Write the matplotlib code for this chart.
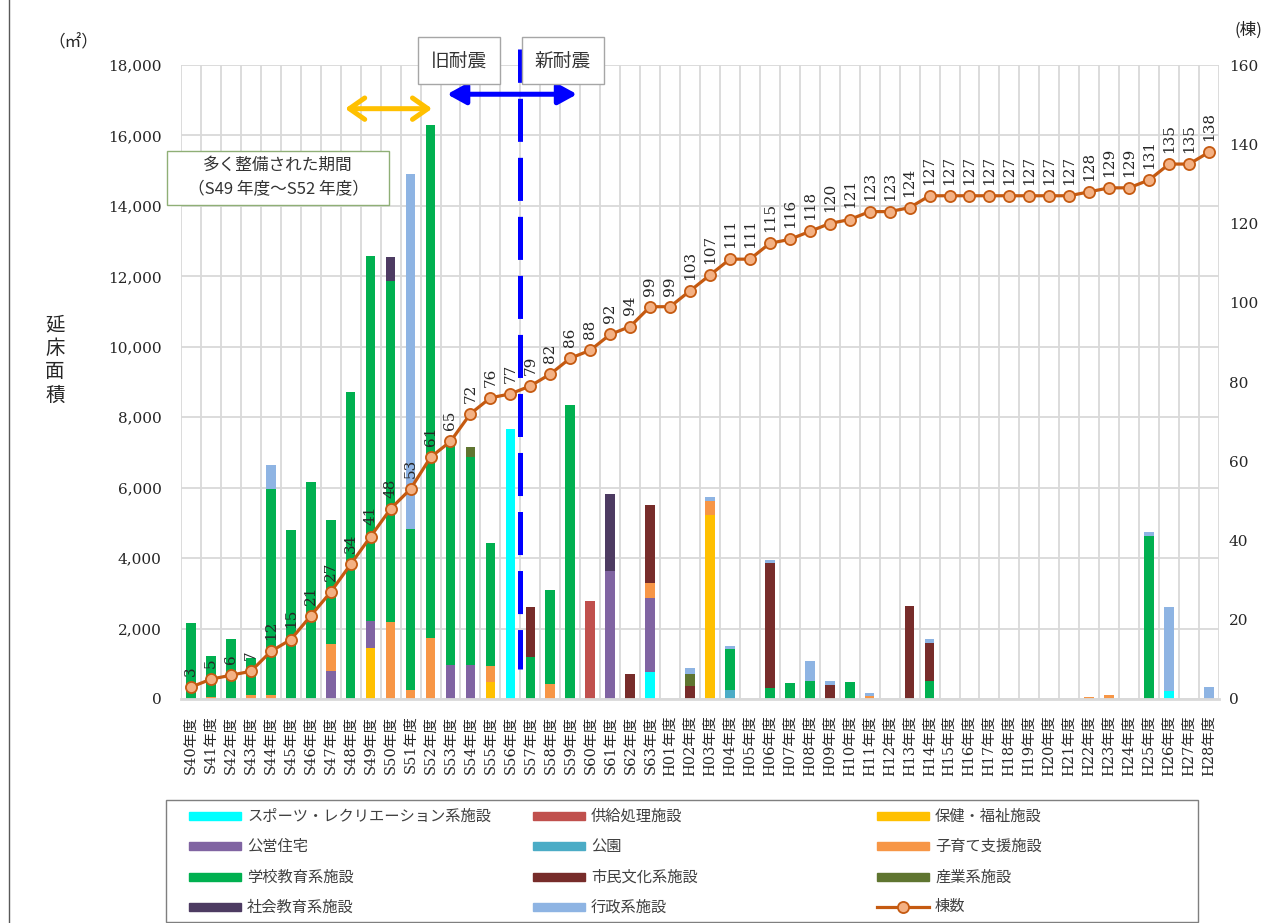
import numpy as np
import matplotlib.pyplot as plt
from matplotlib.patches import Rectangle
from matplotlib.lines import Line2D

plt.rcParams['font.family'] = ['Noto Sans CJK JP', 'DejaVu Sans']
plt.rcParams['lines.scale_dashes'] = False
SERIF = ['DejaVu Serif', 'Noto Sans CJK JP']

# 年度ラベル (昭和40年度～平成28年度)
years = [f"S{n}年度" for n in range(40, 64)] + [f"H{n:02d}年度" for n in range(1, 29)]

# 用途別延床面積 (㎡)  上段: S40-S63, 下段: H01-H28
sports = [0, 0, 0, 0, 0, 0, 0, 0, 0, 0, 0, 0, 0, 0, 0, 0, 7660, 0, 0, 0, 0, 0, 0, 780,
          0, 0, 0, 0, 0, 0, 0, 0, 0, 0, 0, 0, 0, 0, 0, 0, 0, 0, 0, 0, 0, 0, 0, 0, 0, 220, 0, 0]
supply = [0, 0, 0, 0, 0, 0, 0, 0, 0, 0, 0, 0, 0, 0, 0, 0, 0, 0, 0, 0, 2790, 0, 0, 0,
          0, 0, 0, 0, 0, 0, 0, 0, 0, 0, 0, 0, 0, 0, 0, 0, 0, 0, 0, 0, 0, 0, 0, 0, 0, 0, 0, 0]
health = [0, 0, 0, 0, 0, 0, 0, 0, 0, 1450, 0, 0, 0, 0, 0, 470, 0, 0, 0, 0, 0, 0, 0, 0,
          0, 0, 5210, 0, 0, 0, 0, 0, 0, 0, 0, 0, 0, 0, 0, 0, 0, 0, 0, 0, 0, 0, 0, 0, 0, 0, 0, 0]
housing = [0, 0, 0, 0, 0, 0, 0, 790, 0, 770, 0, 0, 0, 970, 970, 0, 0, 0, 0, 0, 0, 3640, 0, 2080,
           0, 0, 0, 0, 0, 0, 0, 0, 0, 0, 0, 0, 0, 0, 0, 0, 0, 0, 0, 0, 0, 0, 0, 0, 0, 0, 0, 0]
park = [0, 0, 0, 0, 0, 0, 0, 0, 0, 0, 0, 0, 0, 0, 0, 0, 0, 0, 0, 0, 0, 0, 0, 0,
        0, 0, 0, 260, 0, 0, 0, 0, 0, 0, 0, 0, 0, 0, 0, 0, 0, 0, 0, 0, 0, 0, 0, 0, 0, 0, 0, 0]
childcare = [0, 50, 0, 100, 100, 0, 0, 760, 0, 0, 2190, 250, 1730, 0, 0, 480, 0, 0, 430, 0, 0, 0, 0, 420,
             0, 0, 400, 0, 0, 0, 0, 0, 0, 0, 90, 0, 0, 0, 0, 0, 0, 0, 0, 0, 0, 70, 110, 0, 0, 0, 0, 0]
school = [2150, 1180, 1700, 1050, 5860, 4800, 6150, 3540, 8730, 10370, 9690, 4570, 14570, 6200, 5900, 3480,
          0, 1200, 2660, 8350, 0, 0, 0, 0,
          0, 0, 0, 1150, 0, 320, 450, 500, 0, 490, 0, 0, 0, 520, 0, 0, 0, 0, 0, 0, 0, 0, 0, 0, 4630, 0, 0, 0]
culture = [0, 0, 0, 0, 0, 0, 0, 0, 0, 0, 0, 0, 0, 0, 0, 0, 0, 1400, 0, 0, 0, 0, 700, 2220,
           0, 380, 0, 0, 0, 3550, 0, 0, 410, 0, 0, 0, 2650, 1080, 0, 0, 0, 0, 0, 0, 0, 0, 0, 0, 0, 0, 0, 0]
industry = [0, 0, 0, 0, 0, 0, 0, 0, 0, 0, 0, 0, 0, 0, 280, 0, 0, 0, 0, 0, 0, 0, 0, 0,
            0, 330, 0, 0, 0, 0, 0, 0, 0, 0, 0, 0, 0, 0, 0, 0, 0, 0, 0, 0, 0, 0, 0, 0, 0, 0, 0, 0]
social_edu = [0, 0, 0, 0, 0, 0, 0, 0, 0, 0, 680, 0, 0, 0, 0, 0, 0, 0, 0, 0, 0, 2190, 0, 0,
              0, 0, 0, 0, 0, 0, 0, 0, 0, 0, 0, 0, 0, 0, 0, 0, 0, 0, 0, 0, 0, 0, 0, 0, 0, 0, 0, 0]
admin = [0, 0, 0, 0, 670, 0, 0, 0, 0, 0, 0, 10080, 0, 0, 0, 0, 0, 0, 0, 0, 0, 0, 0, 0,
         0, 160, 130, 100, 0, 90, 0, 570, 110, 0, 90, 0, 0, 100, 0, 0, 0, 0, 0, 0, 0, 0, 0, 0, 100, 2400, 0, 350]

# 累計棟数
buildings = [3, 5, 6, 7, 12, 15, 21, 27, 34, 41, 48, 53, 61, 65, 72, 76, 77, 79, 82, 86, 88, 92, 94, 99,
             99, 103, 107, 111, 111, 115, 116, 118, 120, 121, 123, 123, 124, 127, 127, 127, 127, 127,
             127, 127, 127, 128, 129, 129, 131, 135, 135, 138]

series = [
    (sports, '#00FFFF', 'スポーツ・レクリエーション系施設'),
    (supply, '#C0504D', '供給処理施設'),
    (health, '#FFC000', '保健・福祉施設'),
    (housing, '#8064A2', '公営住宅'),
    (park, '#4BACC6', '公園'),
    (childcare, '#F79646', '子育て支援施設'),
    (school, '#00B050', '学校教育系施設'),
    (culture, '#772C2A', '市民文化系施設'),
    (industry, '#5F7530', '産業系施設'),
    (social_edu, '#4D3B62', '社会教育系施設'),
    (admin, '#8EB4E3', '行政系施設'),
]
LINE_C = '#C55A11'
MARK_C = '#F4B183'

W, H = 1277, 923
fig = plt.figure(figsize=(W / 100, H / 100), dpi=100)


def fpos(xp, yp):
    return xp / W, 1 - yp / H


ax = fig.add_axes([181 / W, 1 - 699 / H, (1219 - 181) / W, (699 - 65) / H])
x = np.arange(len(years))
bottom = np.zeros(len(years))
for vals, color, label in series:
    ax.bar(x, vals, 0.48, bottom=bottom, color=color, zorder=2)
    bottom += np.array(vals)

ax.set_xlim(-0.5, len(years) - 0.5)
ax.set_ylim(0, 18000)
yt = np.arange(0, 18001, 2000)
ax.set_yticks(yt)
ax.set_yticklabels([f"{v:,}" for v in yt], family=SERIF, fontsize=11, color='#262626')
ax.set_xticks(x)
ax.set_xticklabels(years, rotation=90, family=SERIF, fontsize=10.5, color='#262626')
ax.set_xticks(np.arange(-0.5, len(years), 1), minor=True)
ax.grid(axis='y', which='major', color='#D9D9D9', lw=1.3)
ax.grid(axis='x', which='minor', color='#D9D9D9', lw=1.3)
ax.set_axisbelow(True)
ax.tick_params(which='both', length=0)
ax.tick_params(axis='x', pad=12)
ax.tick_params(axis='y', pad=14)
for s in ax.spines.values():
    s.set_visible(False)
ax.spines['bottom'].set_visible(True)
ax.spines['bottom'].set_color('#D9D9D9')
ax.spines['bottom'].set_linewidth(2)

# 旧耐震 / 新耐震 の境界線
ax.plot([16.46, 16.46], [18460, 860], color='blue', lw=3.6, ls=(7, (31, 11.5)),
        solid_capstyle='butt', dash_capstyle='butt', clip_on=False, zorder=5)
ax.annotate('', xy=(19.34, 17170), xytext=(12.83, 17170), annotation_clip=False,
            arrowprops=dict(arrowstyle='<|-|>,head_length=0.4,head_width=0.22', color='blue',
                            lw=3.6, mutation_scale=28, shrinkA=0, shrinkB=0), zorder=6)
ax.annotate('', xy=(12.08, 16760), xytext=(7.72, 16760), annotation_clip=False,
            arrowprops=dict(arrowstyle='<->,head_length=0.5,head_width=0.35', color='#FFC000',
                            lw=3.6, mutation_scale=22, shrinkA=0, shrinkB=0), zorder=6)
box = dict(boxstyle='square,pad=0.7', fc='white', ec='#A6A6A6', lw=1)
ax.text(13.43, 18122, '旧耐震', ha='center', va='center', fontsize=13.5, color='#333333',
        bbox=box, zorder=7)
ax.text(18.64, 18122, '新耐震', ha='center', va='center', fontsize=13.5, color='#333333',
        bbox=box, zorder=7)
ax.add_patch(Rectangle((-1.2, 14033), 11.12, 1533, fc='white', ec='#8FAF76', lw=1,
                       clip_on=False, zorder=7))
ax.text(4.36, 14800, '多く整備された期間\n（S49 年度～S52 年度）', ha='center', va='center',
        fontsize=12, color='#333333', linespacing=1.6, zorder=8)

# 棟数 (右軸)
ax2 = ax.twinx()
ax2.set_ylim(0, 160)
rt = np.arange(0, 161, 20)
ax2.set_yticks(rt)
ax2.set_yticklabels([str(v) for v in rt], family=SERIF, fontsize=11, color='#262626')
ax2.tick_params(length=0, pad=7)
for s in ax2.spines.values():
    s.set_visible(False)
ax2.plot(x, buildings, color=LINE_C, lw=2.3, marker='o', ms=8, mfc=MARK_C, mec=LINE_C,
         mew=1.3, zorder=4)
for i, v in enumerate(buildings):
    ax2.annotate(str(v), (i, v), xytext=(0, 8), textcoords='offset points', rotation=90,
                 ha='center', va='bottom', fontsize=11, family=SERIF, color='#262626')

fig.text(*fpos(73, 43), '（㎡）', ha='center', va='center', fontsize=12, color='#262626')
fig.text(*fpos(1248, 30), '(棟)', ha='center', va='center', fontsize=12, color='#262626')
fig.text(*fpos(55, 360), '延\n床\n面\n積', ha='center', va='center', fontsize=14,
         linespacing=1.15, color='#262626')

# 外枠 (左辺)
fig.lines.append(Line2D([9 / W, 9 / W], [0, 1], transform=fig.transFigure,
                        color='#595959', lw=1))

# 凡例
x0, y0 = fpos(166, 922)
fig.patches.append(Rectangle((x0, y0), 1032 / W, 122 / H, transform=fig.transFigure,
                             fill=False, ec='#7F7F7F', lw=1))
col_x = [189, 533, 877]
row_y = [816, 846, 877, 907]
entries = [(c, l) for _, c, l in series] + [(None, '棟数')]
for i, (color, label) in enumerate(entries):
    hx, hy = col_x[i % 3], row_y[i // 3]
    if color is not None:
        fig.patches.append(Rectangle(fpos(hx, hy + 4), 52 / W, 8 / H,
                                     transform=fig.transFigure, color=color))
    else:
        fig.lines.append(Line2D([hx / W, (hx + 52) / W], [1 - hy / H] * 2,
                                transform=fig.transFigure, color=LINE_C, lw=2.3))
        fig.lines.append(Line2D([(hx + 26) / W], [1 - hy / H], transform=fig.transFigure,
                                marker='o', ms=8, mfc=MARK_C, mec=LINE_C, mew=1.3))
    fig.text(*fpos(hx + 58, hy), label, va='center', ha='left', fontsize=11, color='#404040')

fig.savefig('out.png', dpi=100)
